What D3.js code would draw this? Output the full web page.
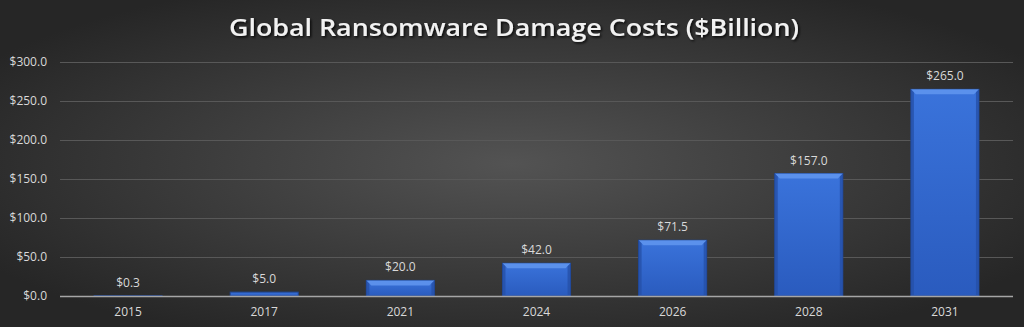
<!DOCTYPE html>
<html>
<head>
<meta charset="utf-8">
<script src="https://cdn.jsdelivr.net/npm/d3@7"></script>
<style>
  html, body { margin: 0; padding: 0; background: #333; }
  svg { display: block; }
</style>
</head>
<body>
<svg id="chart" width="1024" height="327"></svg>
<script>
// Ransomware damage cost projections, in billions of US dollars
const years = ["2015", "2017", "2021", "2024", "2026", "2028", "2031"];
const costs = [0.3, 5.0, 20.0, 42.0, 71.5, 157.0, 265.0];
const yTicks = [0, 50, 100, 150, 200, 250, 300];
const title = "Global Ransomware Damage Costs ($Billion)";

const rows = years.map((year, i) => ({ year, cost: costs[i] }));

const W = 1024, H = 327;
const margin = { left: 60, right: 11, top: 62, bottom: 31 };

const svg = d3.select("#chart");
const defs = svg.append("defs");

// Dark radial backdrop
const bg = defs.append("radialGradient").attr("id", "bg")
  .attr("cx", "50%").attr("cy", "50%").attr("r", "60%");
bg.append("stop").attr("offset", "0%").attr("stop-color", "#535353");
bg.append("stop").attr("offset", "100%").attr("stop-color", "#262626");

// Bar body gradient
const barGrad = defs.append("linearGradient").attr("id", "barFill")
  .attr("x1", 0).attr("y1", 0).attr("x2", 0).attr("y2", 1);
barGrad.append("stop").attr("offset", "0%").attr("stop-color", "#3a73db");
barGrad.append("stop").attr("offset", "100%").attr("stop-color", "#2a5bbe");

// Soft shadow for the title
const sh = defs.append("filter").attr("id", "titleShadow")
  .attr("x", "-5%").attr("y", "-30%").attr("width", "110%").attr("height", "160%");
sh.append("feDropShadow").attr("dx", 1.5).attr("dy", 1.5).attr("stdDeviation", 1.2)
  .attr("flood-color", "#000").attr("flood-opacity", 0.8);

svg.append("rect").attr("width", W).attr("height", H).attr("fill", "url(#bg)");

const x = d3.scaleBand().domain(years)
  .range([margin.left, W - margin.right]).paddingInner(0.5).paddingOuter(0.25);
const y = d3.scaleLinear().domain([0, 300]).range([H - margin.bottom, margin.top]);

// Horizontal gridlines
svg.append("g").selectAll("line").data(yTicks.filter(d => d > 0)).join("line")
  .attr("x1", margin.left).attr("x2", W - margin.right)
  .attr("y1", d => Math.round(y(d)) + 0.5).attr("y2", d => Math.round(y(d)) + 0.5)
  .attr("stroke", "#585858").attr("stroke-width", 1);

// Y axis labels
const yAxis = d3.axisLeft(y).tickValues(yTicks)
  .tickFormat(d => "$" + d.toFixed(1)).tickSize(0).tickPadding(13);
const gy = svg.append("g").attr("transform", `translate(${margin.left},0)`).call(yAxis);
gy.select(".domain").remove();
gy.selectAll("text").attr("fill", "#d9d9d9")
  .style("font-family", "'Open Sans', sans-serif").style("font-size", "12px");

// Bars
const bars = svg.append("g").selectAll("g").data(rows).join("g");
bars.append("rect")
  .attr("x", d => x(d.year))
  .attr("y", d => y(d.cost))
  .attr("width", x.bandwidth())
  .attr("height", d => y(0) - y(d.cost))
  .attr("fill", "url(#barFill)")
  .attr("stroke", "#1f4592").attr("stroke-width", 1);

const tall = bars.filter(d => y(0) - y(d.cost) > 8);
// bevel highlight along the top edge
tall.append("path")
  .attr("d", d => {
    const x0 = x(d.year), x1 = x0 + x.bandwidth(), t = y(d.cost);
    return `M${x0},${t}L${x1},${t}L${x1 - 5},${t + 5}L${x0 + 5},${t + 5}Z`;
  })
  .attr("fill", "#6196ee").attr("opacity", 0.85);
// darker side edges
tall.append("path")
  .attr("d", d => {
    const x0 = x(d.year), x1 = x0 + x.bandwidth(), t = y(d.cost), b = y(0);
    return `M${x1},${t}L${x1},${b}L${x1 - 3},${b}L${x1 - 3},${t + 3}Z` +
           `M${x0},${t}L${x0},${b}L${x0 + 3},${b}L${x0 + 3},${t + 3}Z`;
  })
  .attr("fill", "#2550a8").attr("opacity", 0.8);

// Value labels
svg.append("g").selectAll("text").data(rows).join("text")
  .attr("x", d => x(d.year) + x.bandwidth() / 2)
  .attr("y", d => y(d.cost) - 9)
  .attr("text-anchor", "middle")
  .attr("fill", "#d9d9d9")
  .style("font-family", "'Open Sans', sans-serif").style("font-size", "12px")
  .text(d => "$" + d.cost.toFixed(1));

// X axis baseline and labels
svg.append("line")
  .attr("x1", margin.left).attr("x2", W - margin.right)
  .attr("y1", y(0) + 0.5).attr("y2", y(0) + 0.5)
  .attr("stroke", "#a6a6a6").attr("stroke-width", 1.5);
const xAxis = d3.axisBottom(x).tickSize(0).tickPadding(11);
const gx = svg.append("g").attr("transform", `translate(0,${y(0)})`).call(xAxis);
gx.select(".domain").remove();
gx.selectAll("text").attr("fill", "#d9d9d9")
  .style("font-family", "'Open Sans', sans-serif").style("font-size", "12px");

// Title
svg.append("text")
  .attr("x", 514).attr("y", 36)
  .attr("text-anchor", "middle")
  .attr("fill", "#f2f2f2")
  .attr("filter", "url(#titleShadow)")
  .style("font-family", "'Open Sans', sans-serif")
  .style("font-weight", 600).style("font-size", "23px")
  .attr("textLength", 570).attr("lengthAdjust", "spacingAndGlyphs")
  .text(title);
</script>
</body>
</html>
